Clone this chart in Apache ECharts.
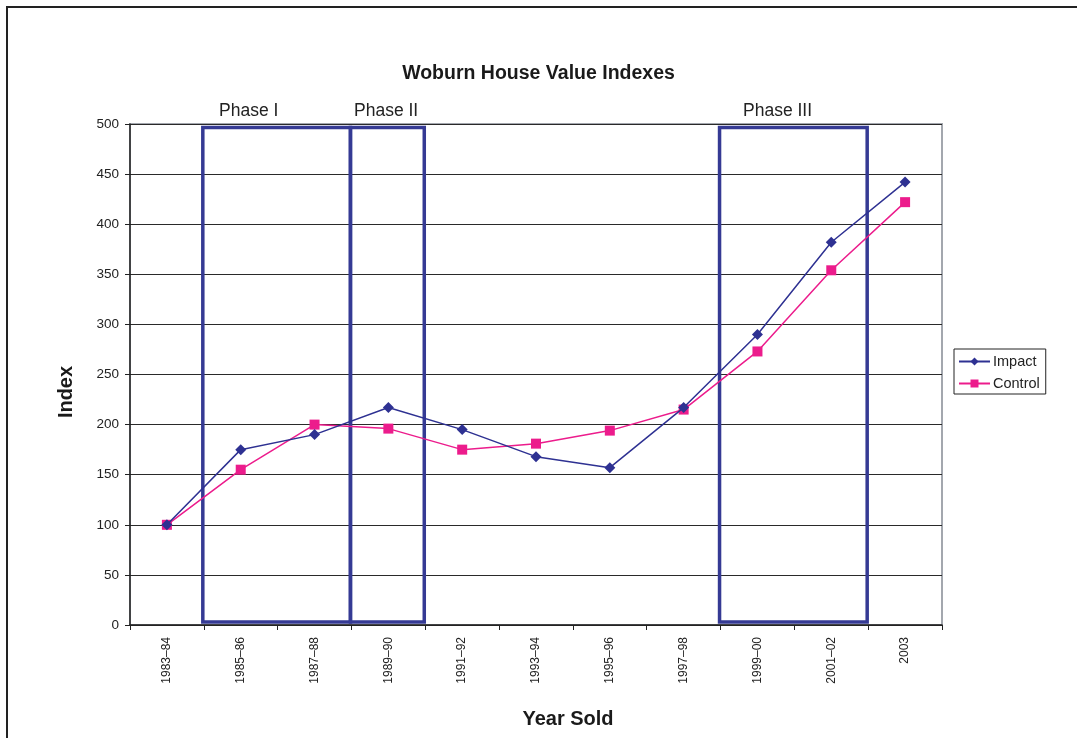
<!DOCTYPE html>
<html>
<head>
<meta charset="utf-8">
<title>Woburn House Value Indexes</title>
<script src="https://cdn.jsdelivr.net/npm/echarts@6/dist/echarts.min.js"></script>
<style>
  html, body { margin: 0; padding: 0; background: #fff; }
  #chart { width: 1077px; height: 738px; }
</style>
</head>
<body>
<div id="chart"></div>
<script>
// Sale-year periods on the horizontal axis
const years = ['1983–84', '1985–86', '1987–88', '1989–90', '1991–92', '1993–94',
               '1995–96', '1997–98', '1999–00', '2001–02', '2003'];

// House value index, 1983–84 = 100
const impact  = [100, 175, 190, 217, 195, 168, 157, 217, 290, 382, 442];
const control = [100, 155, 200, 196, 175, 181, 194, 215, 273, 354, 422];

// Project phases, given as first and last sale period covered
const phaseNames = ['Phase I', 'Phase II', 'Phase III'];
const phaseFrom  = ['1985–86', '1989–90', '1999–00'];
const phaseTo    = ['1987–88', '1989–90', '2001–02'];

const yTicks = { min: 0, max: 500, interval: 50 };

const FONT = '"Liberation Sans", Arial, Helvetica, sans-serif';
const NAVY = '#2e3192';
const PINK = '#ec1c8c';
const BOX  = '#353a94';

const phaseData = phaseNames.map((n, i) => [
  years.indexOf(phaseFrom[i]), years.indexOf(phaseTo[i]), yTicks.min, yTicks.max
]);

const chart = echarts.init(document.getElementById('chart'), null, { renderer: 'canvas' });

chart.setOption({
  animation: false,
  backgroundColor: '#fff',
  textStyle: { fontFamily: FONT },
  title: {
    text: 'Woburn House Value Indexes',
    left: 'center',
    top: 59,
    textStyle: { fontFamily: FONT, fontSize: 19.5, fontWeight: 'bold', color: '#1a1a1a' }
  },
  legend: {
    left: 954,
    top: 349,
    orient: 'vertical',
    data: ['Impact', 'Control'],
    borderColor: '#222',
    borderWidth: 1,
    borderRadius: 0,
    padding: [5, 6, 3, 4],
    itemGap: 7,
    itemWidth: 31,
    itemHeight: 10,
    textStyle: { fontFamily: FONT, fontSize: 14.5, color: '#222', padding: [0, 0, 0, -2] }
  },
  grid: {
    left: 130,
    right: 135,
    top: 124,
    bottom: 113,
    show: true,
    borderColor: '#a3a7ae',
    borderWidth: 2,
    backgroundColor: '#fff'
  },
  xAxis: {
    type: 'category',
    data: years,
    boundaryGap: true,
    axisLine: { lineStyle: { color: '#222', width: 1.5 } },
    axisTick: { show: true, length: 5, alignWithLabel: false, lineStyle: { color: '#222' } },
    axisLabel: { rotate: 90, fontFamily: FONT, fontSize: 12, color: '#222', margin: 12 },
    splitLine: { show: false }
  },
  yAxis: {
    type: 'value',
    min: yTicks.min,
    max: yTicks.max,
    interval: yTicks.interval,
    axisLine: { show: true, lineStyle: { color: '#222', width: 1.5 } },
    axisTick: { show: true, length: 5, lineStyle: { color: '#222' } },
    axisLabel: { fontFamily: FONT, fontSize: 13.5, color: '#222', margin: 11 },
    splitLine: { show: true, lineStyle: { color: '#2a2a2a', width: 1 } }
  },
  graphic: [
    // Page frame: top and left edges
    { type: 'line', shape: { x1: 6, y1: 7, x2: 1077, y2: 7 }, style: { stroke: '#222', lineWidth: 2 }, z: 100 },
    { type: 'line', shape: { x1: 7, y1: 6, x2: 7, y2: 738 }, style: { stroke: '#222', lineWidth: 2 }, z: 100 },
    // Axis titles
    { type: 'text', x: 568, y: 719, style: { text: 'Year Sold', fontFamily: FONT, fontSize: 20, fontWeight: 'bold', fill: '#1a1a1a', align: 'center', verticalAlign: 'middle' } },
    { type: 'text', x: 66, y: 392, rotation: Math.PI / 2, style: { text: 'Index', fontFamily: FONT, fontSize: 20, fontWeight: 'bold', fill: '#1a1a1a', align: 'center', verticalAlign: 'middle' } },
    // Phase headings
    { type: 'text', left: 219, top: 102, style: { text: 'Phase I', fontFamily: FONT, fontSize: 17.5, fill: '#222' } },
    { type: 'text', left: 354, top: 102, style: { text: 'Phase II', fontFamily: FONT, fontSize: 17.5, fill: '#222' } },
    { type: 'text', left: 743, top: 102, style: { text: 'Phase III', fontFamily: FONT, fontSize: 17.5, fill: '#222' } }
  ],
  series: [
    {
      name: 'Phases',
      type: 'custom',
      z: 5,
      silent: true,
      encode: { x: [0, 1], y: [2, 3] },
      data: phaseData,
      renderItem: function (params, api) {
        const bw = api.size([1, 0])[0];
        const pLo = api.coord([api.value(0), api.value(2)]);
        const pHi = api.coord([api.value(1), api.value(3)]);
        const inset = 3;
        const x0 = pLo[0] - bw / 2 - 1;
        const x1 = pHi[0] + bw / 2 - 1;
        const y0 = pHi[1] + inset + 0.5;
        const y1 = pLo[1] - inset;
        return {
          type: 'rect',
          shape: { x: x0, y: y0, width: x1 - x0, height: y1 - y0 },
          style: { fill: null, stroke: BOX, lineWidth: 3.5 }
        };
      }
    },
    {
      name: 'Impact',
      type: 'line',
      z: 10,
      data: impact,
      symbol: 'diamond',
      symbolSize: 11,
      itemStyle: { color: NAVY },
      lineStyle: { color: NAVY, width: 1.5 }
    },
    {
      name: 'Control',
      type: 'line',
      z: 9,
      data: control,
      symbol: 'rect',
      symbolSize: 10,
      itemStyle: { color: PINK },
      lineStyle: { color: PINK, width: 1.5 }
    }
  ]
});
</script>
</body>
</html>
